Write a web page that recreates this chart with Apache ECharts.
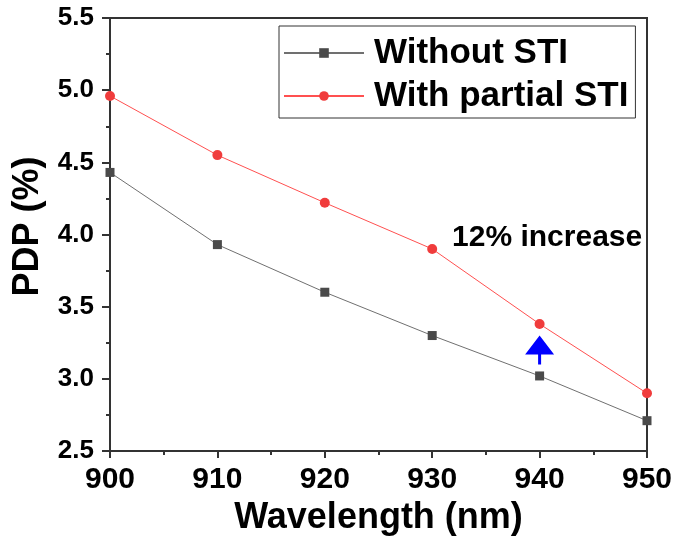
<!DOCTYPE html>
<html>
<head>
<meta charset="utf-8">
<script src="https://cdn.jsdelivr.net/npm/echarts@6/dist/echarts.min.js"></script>
<style>
html,body{margin:0;padding:0;background:#fff;}
#chart{width:676px;height:543px;}
</style>
</head>
<body>
<div id="chart"></div>
<script>
// Data
var wavelengths = [900, 910, 920, 930, 940, 950];
var withoutSTI = [4.43, 3.93, 3.60, 3.30, 3.02, 2.71];
var withPartialSTI = [4.96, 4.55, 4.22, 3.90, 3.38, 2.90];
var seriesNames = ['Without STI', 'With partial STI'];
var annotationText = '12% increase';
var annotationTextPos = [940.7, 3.98];
var arrowPos = [940, 3.20];

var FONT = "'Liberation Sans', Arial, sans-serif";

function pairs(xs, ys) {
  return xs.map(function (x, i) { return [x, ys[i]]; });
}

var chart = echarts.init(document.getElementById('chart'), null, {renderer: 'canvas'});
chart.setOption({
  animation: false,
  backgroundColor: '#ffffff',
  grid: {
    left: 110, top: 18, right: 29, bottom: 92,
    show: true, borderColor: '#333', borderWidth: 2, backgroundColor: 'transparent'
  },
  legend: {
    orient: 'vertical',
    left: 279, top: 26,
    padding: [9, 7, 4, 4],
    itemGap: 7,
    itemWidth: 80,
    itemHeight: 12,
    borderColor: '#333',
    borderWidth: 1,
    textStyle: {
      fontFamily: FONT, fontSize: 35, fontWeight: 'bold', color: '#000',
      lineHeight: 36, padding: [0, 0, 0, 5]
    },
    data: seriesNames
  },
  xAxis: {
    type: 'value',
    min: 900, max: 950, interval: 10,
    name: 'Wavelength (nm)',
    nameLocation: 'middle',
    nameGap: 48,
    nameTextStyle: {fontFamily: FONT, fontSize: 36, fontWeight: 'bold', color: '#000'},
    axisLine: {show: true, onZero: false, lineStyle: {color: '#333', width: 2}},
    axisTick: {show: true, inside: false, length: 7, lineStyle: {color: '#333', width: 2}},
    minorTick: {show: true, splitNumber: 2, length: 4, lineStyle: {color: '#333', width: 2}},
    axisLabel: {fontFamily: FONT, fontSize: 30, fontWeight: 'bold', color: '#000', margin: 14},
    splitLine: {show: false}
  },
  yAxis: {
    type: 'value',
    min: 2.5, max: 5.5, interval: 0.5,
    name: 'PDP (%)',
    nameLocation: 'middle',
    nameGap: 64,
    nameTextStyle: {fontFamily: FONT, fontSize: 36, fontWeight: 'bold', color: '#000', padding: [0, 0, 0, 16]},
    axisLine: {show: true, onZero: false, lineStyle: {color: '#333', width: 2}},
    axisTick: {show: true, inside: false, length: 8, lineStyle: {color: '#333', width: 2}},
    minorTick: {show: true, splitNumber: 2, length: 4, lineStyle: {color: '#333', width: 2}},
    axisLabel: {
      fontFamily: FONT, fontSize: 26, fontWeight: 'bold', color: '#000', margin: 16,
      formatter: function (v) { return v.toFixed(1); }
    },
    splitLine: {show: false}
  },
  series: [
    {
      name: seriesNames[0],
      type: 'line',
      data: pairs(wavelengths, withoutSTI),
      symbol: 'rect',
      symbolSize: 9,
      showAllSymbol: true,
      lineStyle: {color: '#707070', width: 1},
      itemStyle: {color: '#4a4a4a', borderColor: '#4a4a4a', borderWidth: 0},
      z: 3
    },
    {
      name: seriesNames[1],
      type: 'line',
      data: pairs(wavelengths, withPartialSTI),
      symbol: 'circle',
      symbolSize: 10,
      showAllSymbol: true,
      lineStyle: {color: '#ff5050', width: 1},
      itemStyle: {color: '#f03c3c', borderWidth: 0},
      z: 4,
      markPoint: {
        silent: true,
        animation: false,
        data: [
          {
            coord: annotationTextPos,
            symbol: 'rect',
            symbolSize: [1, 1],
            itemStyle: {color: 'rgba(0,0,0,0)'},
            label: {
              show: true, position: 'inside', formatter: annotationText,
              fontFamily: FONT, fontSize: 30, fontWeight: 'bold', color: '#000'
            }
          },
          {
            coord: arrowPos,
            symbol: 'path://M14.5,0 L29,19 L16,19 L16,29 L13,29 L13,19 L0,19 Z',
            symbolSize: [29, 29],
            symbolKeepAspect: false,
            itemStyle: {color: '#0000ff'},
            label: {show: false}
          }
        ]
      }
    }
  ]
});
</script>
</body>
</html>
